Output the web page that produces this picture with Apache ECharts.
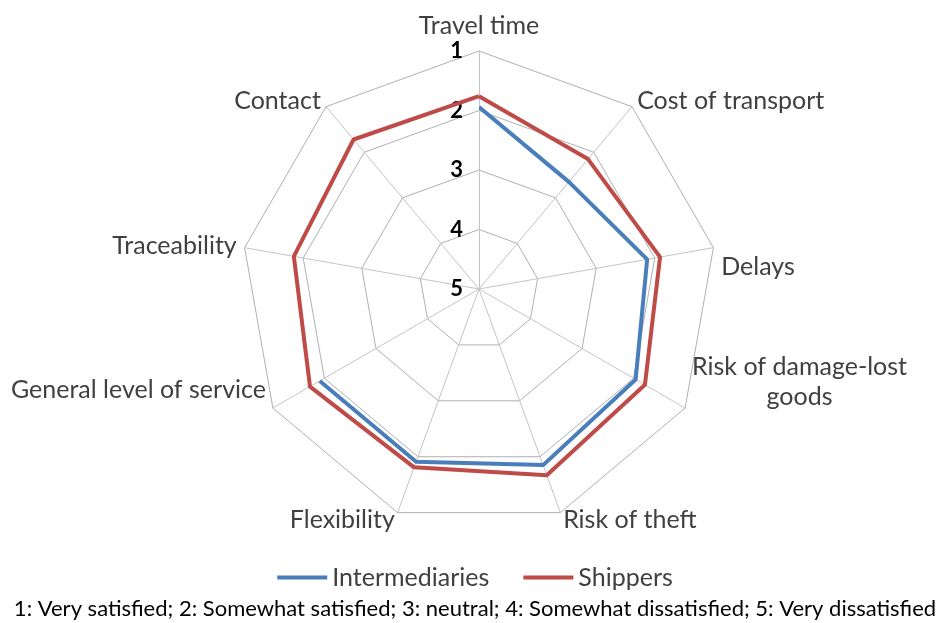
<!DOCTYPE html>
<html>
<head>
<meta charset="utf-8">
<script src="https://cdn.jsdelivr.net/npm/echarts@6/dist/echarts.min.js"></script>
<style>
  html, body { margin: 0; padding: 0; background: #fff; }
  #chart { width: 950px; height: 623px; }
</style>
</head>
<body>
<div id="chart"></div>
<script>
// satisfaction scale: 1 = very satisfied (outer ring) ... 5 = very dissatisfied (centre)
const indicators = ['Travel time', 'Cost of transport', 'Delays', 'Risk of damage-lost goods',
  'Risk of theft', 'Flexibility', 'General level of service', 'Traceability', 'Contact'];
const intermediaries = [1.94, 2.65, 2.13, 1.96, 1.85, 1.91, 1.91, null, null];
const shippers = [1.76, 2.15, 1.91, 1.78, 1.67, 1.81, 1.72, 1.84, 1.72];
const scaleMin = 1, scaleMax = 5;
const footnote = '1: Very satisfied; 2: Somewhat satisfied; 3: neutral; 4: Somewhat dissatisfied; 5: Very dissatisfied';

const font = 'Lato, "Open Sans", sans-serif';
const blue = '#4a7ebb', red = '#be4b48';
const center = [479, 289], radius = 238;

// a few names sit a bit differently from ECharts' default placement
const nameTweaks = {
  'Travel time': { verticalAlign: 'bottom', padding: [0, 0, 5, 0] },
  'Delays': { verticalAlign: 'top', padding: [8, 0, 0, 0] },
  'Risk of damage-lost goods': { verticalAlign: 'bottom' },
  'General level of service': { verticalAlign: 'bottom', padding: [0, 0, 10, 0] }
};

var chart = echarts.init(document.getElementById('chart'));

// radar goes counter-clockwise and can't be inverted:
// feed it the categories in reverse order (keeping the first on top) and negated values
const radarOrder = indicators.map((_, i) => (indicators.length - i) % indicators.length);

const radarIndicators = radarOrder.map((k, i) => {
  let ind = { name: indicators[k], min: -scaleMax, max: -scaleMin };
  if (nameTweaks[indicators[k]]) {
    ind.nameTextStyle = nameTweaks[indicators[k]];
  }
  if (i === 0) {
    ind.axisLabel = {
      show: true, color: '#000', fontWeight: 'bold', fontSize: 22,
      fontFamily: font, margin: 16, formatter: v => String(-v)
    };
  }
  return ind;
});

var option = {
  animation: false,
  backgroundColor: '#fff',
  title: {
    text: footnote,
    left: 'center', top: 593,
    textStyle: { color: '#000', fontSize: 22, fontWeight: 'normal', fontFamily: font }
  },
  legend: {
    top: 560, left: 'center',
    itemWidth: 50, itemHeight: 4, itemGap: 34,
    textStyle: { color: '#404040', fontSize: 25, fontFamily: font, padding: [0, 0, 0, 0] },
    data: [{ name: 'Intermediaries', icon: 'rect' }, { name: 'Shippers', icon: 'rect' }]
  },
  radar: {
    center: center, radius: radius, startAngle: 90,
    shape: 'polygon', splitNumber: 4,
    indicator: radarIndicators,
    axisName: {
      color: '#404040', fontSize: 25, fontFamily: font,
      formatter: function (name) {
        if (name === 'Risk of damage-lost goods') {
          return '{a|Risk of damage-lost}\n{b|goods}';
        }
        return name;
      },
      rich: {
        a: { fontSize: 25, fontFamily: font, color: '#404040', lineHeight: 30 },
        b: { fontSize: 25, fontFamily: font, color: '#404040', lineHeight: 30, width: 215, align: 'center' }
      }
    },
    nameGap: 8,
    axisLine: { lineStyle: { color: '#c4c4c4', width: 1 } },
    splitLine: { lineStyle: { color: '#b0b0b0', width: 1 } },
    splitArea: { show: false },
    axisTick: { show: false },
    axisLabel: { show: false }
  },
  polar: { center: center, radius: radius },
  angleAxis: {
    type: 'category', data: indicators, startAngle: 90, boundaryGap: false,
    axisLine: { show: false }, axisTick: { show: false },
    axisLabel: { show: false }, splitLine: { show: false }
  },
  radiusAxis: {
    type: 'value', min: scaleMin, max: scaleMax, inverse: true,
    axisLine: { show: false }, axisTick: { show: false },
    axisLabel: { show: false }, splitLine: { show: false }
  },
  series: [
    {
      name: 'Intermediaries', type: 'line', coordinateSystem: 'polar',
      data: intermediaries, symbol: 'none', connectNulls: false,
      color: blue, lineStyle: { color: blue, width: 4 }
    },
    {
      name: 'Shippers', type: 'radar', symbol: 'none',
      color: red, lineStyle: { color: red, width: 4 },
      data: [{ name: 'Shippers', value: radarOrder.map(k => -shippers[k]) }]
    }
  ]
};
chart.setOption(option);
</script>
</body>
</html>
